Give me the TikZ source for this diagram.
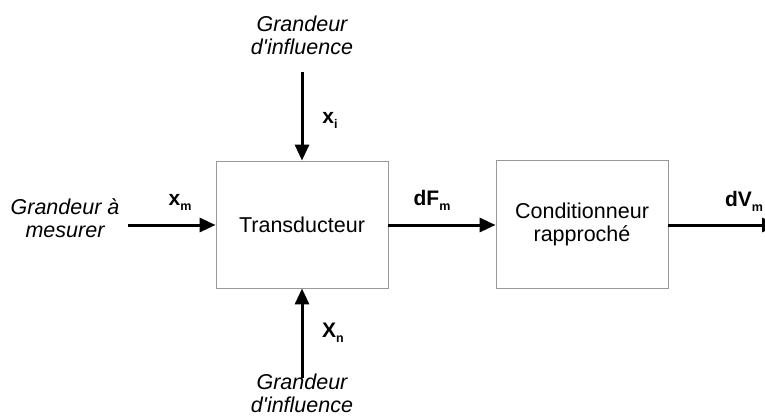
\documentclass[tikz,border=0pt]{standalone}
\usepackage{fontspec}
\setmainfont{Liberation Sans}
\usetikzlibrary{arrows.meta}
\newcommand{\lbl}[2]{\bfseries #1\raisebox{-5pt}{\fontsize{12.5}{12.5}\selectfont\bfseries #2}}
\begin{document}
\begin{tikzpicture}[x=1pt,y=-1pt,
  blk/.style={draw=black!40,line width=0.9pt,inner sep=0pt,align=center,font=\fontsize{21.5}{23}\selectfont},
  sig/.style={line width=3pt,-{Triangle[length=16pt,width=14pt]}},
  itxt/.style={align=center,font=\fontsize{21.5}{23}\selectfont\itshape,inner sep=0pt},
  lab/.style={font=\fontsize{21}{24}\selectfont,inner sep=0pt}]
\useasboundingbox (0,0) rectangle (765,418);
\clip (0,0) rectangle (765,418);
\node[blk,minimum width=172pt,minimum height=127pt] (tr) at (302,224.5) {Transducteur};
\node[blk,minimum width=172pt,minimum height=128pt] (co) at (582,224) {Conditionneur\\rapproché};
\node[itxt] (in) at (65,218.6) {Grandeur à\\mesurer};
\node[itxt] (gt) at (302,35.6) {Grandeur\\d\textquotesingle influence};
\node[itxt] (gb) at (302,393.5) {Grandeur\\d\textquotesingle influence};
\coordinate (inS) at (128,225);
\coordinate (tS) at (302,72);
\coordinate (bS) at (302,378);
\coordinate (outE) at (778,225);
\draw[sig] (inS) -- (tr.west |- inS);
\draw[sig] (tS) -- (tr.north);
\draw[sig] (bS) -- (tr.south);
\draw[sig] (tr.east |- inS) -- (co.west |- inS);
\draw[sig] (co.east |- inS) -- (outE);
\node[lab] (xm) at (180,202) {\lbl{x}{m}};
\node[lab] (xi) at (330,120) {\lbl{x}{i}};
\node[lab] (xn) at (333,333) {\lbl{X}{n}};
\node[lab] (df) at (432,200) {\lbl{dF}{m}};
\node[lab] (dv) at (744,201) {\lbl{dV}{m}};
\end{tikzpicture}
\end{document}
